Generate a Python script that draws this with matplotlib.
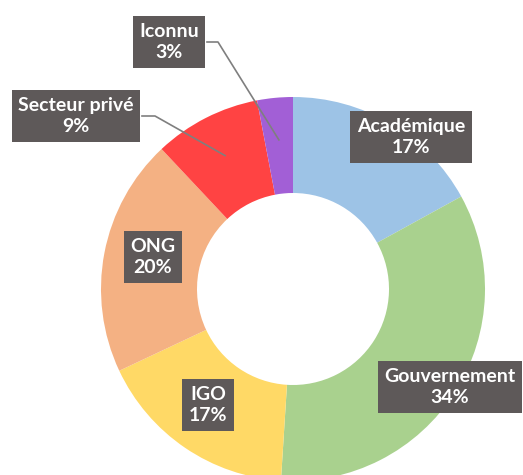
import matplotlib
matplotlib.use("Agg")
import numpy as np
import matplotlib.pyplot as plt

categories = ["Académique", "Gouvernement", "IGO", "ONG", "Secteur privé", "Iconnu"]
shares = [17, 34, 17, 20, 9, 3]
colors = ["#9dc3e6", "#a9d18e", "#ffd966", "#f4b183", "#ff4343", "#a25fd6"]

# label box centres, in pixels of the 523x475 picture
label_px = [(411, 137), (450, 387), (208, 405), (153, 257), (76, 116), (169, 42)]
leader = {"Iconnu": (207, 42, 218), "Secteur privé": (142, 116, 155)}

W, H = 523, 475
cx, cy, R = 293, 289, 192


def to_data(px, py):
    return (px - cx) / R, (cy - py) / R


fig = plt.figure(figsize=(W / 100, H / 100), dpi=100)
ax = fig.add_axes([0, 0, 1, 1])
wedges, _ = ax.pie(shares, colors=colors, startangle=90, counterclock=False,
                   radius=1, wedgeprops=dict(width=0.5, linewidth=0))
ax.set_xlim((0 - cx) / R, (W - cx) / R)
ax.set_ylim((cy - H) / R, cy / R)
ax.set_aspect("equal")
ax.axis("off")

box = dict(boxstyle="square,pad=0.33", fc="#5e5959", ec="none")
for w, name, val, (px, py) in zip(wedges, categories, shares, label_px):
    x, y = to_data(px, py)
    if name in leader:
        bx, by, kx = leader[name]
        ang = np.deg2rad((w.theta1 + w.theta2) / 2)
        tx, ty = 0.78 * np.cos(ang), 0.78 * np.sin(ang)
        x0, y0 = to_data(bx, by)
        x1, _ = to_data(kx, by)
        ax.plot([x0, x1, tx], [y0, y0, ty], color="#7f7f7f", lw=1.2, zorder=3)
    ax.text(x, y, f"{name}\n{val}%", ha="center", va="center", color="white",
            fontsize=14, fontweight="bold", family=["Lato", "DejaVu Sans"],
            linespacing=1.3, bbox=box, zorder=4)

fig.savefig("out.png", dpi=100)
